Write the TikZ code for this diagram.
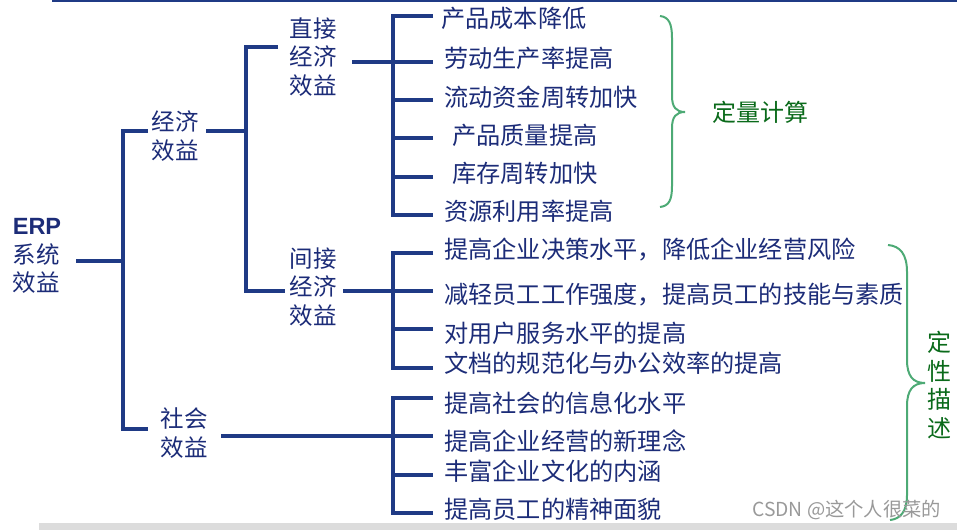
\documentclass[tikz,border=0pt]{standalone}
\usepackage{fontspec}
\setmainfont{Noto Sans CJK SC}
\newfontfamily\erpfont{Liberation Sans}
\definecolor{navy}{HTML}{1F3A85}
\definecolor{navytext}{HTML}{1C2C78}
\definecolor{bracegreen}{HTML}{4DAA75}
\definecolor{darkgreentext}{HTML}{0A6A1A}
\definecolor{bandgrey}{HTML}{DCDCDC}
\tikzset{
  tree/.style={draw=navy, line width=3.4pt, line cap=butt, line join=miter},
  item/.style={anchor=west, inner sep=0pt, text=navytext, font=\fontsize{24.2}{27}\selectfont},
  lbl/.style={anchor=center, inner sep=0pt, text=navytext, align=left, font=\fontsize{23.5}{28.5}\selectfont},
  bracestyle/.style={draw=bracegreen, line width=2pt},
  greentext/.style={inner sep=0pt, text=darkgreentext, font=\fontsize{24}{28.5}\selectfont}
}
\begin{document}
\begin{tikzpicture}[x=1pt, y=-1pt]
\useasboundingbox (0,0) rectangle (957,530);
% frame lines
\fill[navy] (52,0) rectangle (957,2);
\fill[bandgrey] (39,523) rectangle (957,530);

% labels
\node[lbl, align=left] (erp) at (37,256) {{\erpfont\bfseries ERP}\\系统\\效益};
\node[lbl] (econ) at (175,136) {经济\\效益};
\node[lbl] (social) at (184,433) {社会\\效益};
\node[lbl] (direct) at (313,57) {直接\\经济\\效益};
\node[lbl] (indirect) at (313,287) {间接\\经济\\效益};

% items direct
\node[item] (d1) at (441,18) {产品成本降低};
\node[item] (d2) at (444,58) {劳动生产率提高};
\node[item] (d3) at (444,97) {流动资金周转加快};
\node[item] (d4) at (452,135) {产品质量提高};
\node[item] (d5) at (452,173) {库存周转加快};
\node[item] (d6) at (444,211) {资源利用率提高};
% items indirect
\node[item] (i1) at (444,250) {提高企业决策水平，降低企业经营风险};
\node[item] (i2) at (444,295) {减轻员工工作强度，提高员工的技能与素质};
\node[item] (i3) at (444,333) {对用户服务水平的提高};
\node[item] (i4) at (444,363) {文档的规范化与办公效率的提高};
% items social
\node[item] (s1) at (444,403) {提高社会的信息化水平};
\node[item] (s2) at (444,441) {提高企业经营的新理念};
\node[item] (s3) at (444,471) {丰富企业文化的内涵};
\node[item] (s4) at (444,509) {提高员工的精神面貌};

% junction coordinates
\coordinate (erpR) at (76,261);
\coordinate (v1) at (123,261);
\coordinate (econL) at (148,131);
\coordinate (socialL) at (148,429);
\coordinate (econR) at (206,131);
\coordinate (v2) at (246,131);
\coordinate (directL) at (278,47);
\coordinate (indirectL) at (285,291);
\coordinate (directR) at (352,62);
\coordinate (indirectR) at (343,291);
\coordinate (socialR) at (221,436);
\coordinate (v3) at (393,62);
\coordinate (v4) at (393,291);
\coordinate (v5) at (393,436);
\coordinate (dEnd) at (433,0);

% level 1
\draw[tree] (erpR) -- (v1);
\draw[tree] (econL) -- (econL -| v1) -- (socialL -| v1) -- (socialL);
% level 2
\draw[tree] (econR) -- (v2);
\draw[tree] (directL) -- (directL -| v2) -- (indirectL -| v2) -- (indirectL);
% direct group
\draw[tree] (directR) -- (v3);
\draw[tree] (dEnd |- 0,16) -- (v3 |- 0,16) -- (v3 |- 0,215) -- (dEnd |- 0,215);
\foreach \yy in {62,100,138,177} \draw[tree] (v3 |- 0,\yy) -- (dEnd |- 0,\yy);
% indirect group
\draw[tree] (indirectR) -- (v4);
\draw[tree] (dEnd |- 0,253) -- (v4 |- 0,253) -- (v4 |- 0,368) -- (dEnd |- 0,368);
\foreach \yy in {291,329} \draw[tree] (v4 |- 0,\yy) -- (dEnd |- 0,\yy);
% social group
\draw[tree] (socialR) -- (v5);
\draw[tree] (dEnd |- 0,398) -- (v5 |- 0,398) -- (v5 |- 0,513) -- (dEnd |- 0,513);
\foreach \yy in {436,475} \draw[tree] (v5 |- 0,\yy) -- (dEnd |- 0,\yy);

% braces
\draw[bracestyle] (660,16) .. controls (669,17) and (672,24) .. (672,38) -- (672,96)
  .. controls (672,107) and (676,112) .. (685,112)
  .. controls (676,112) and (672,117) .. (672,128) -- (672,186)
  .. controls (672,200) and (669,206) .. (660,207);
\node[greentext, anchor=west] (quant) at (712,112) {定量计算};

\draw[bracestyle] (888,245) .. controls (900,246) and (907,254) .. (907,272) -- (907,360)
  .. controls (907,376) and (913,383) .. (925,383)
  .. controls (913,383) and (907,390) .. (907,406) -- (907,495)
  .. controls (907,512) and (900,519) .. (890,520);
\node[greentext, align=center, anchor=center] (qual) at (939,385) {定\\性\\描\\述};

% watermark
\node[inner sep=0pt, anchor=west, text=black!40, font=\fontsize{19.3}{20}\selectfont] (wm) at (752,510) {CSDN @这个人很菜的};
\end{tikzpicture}
\end{document}
